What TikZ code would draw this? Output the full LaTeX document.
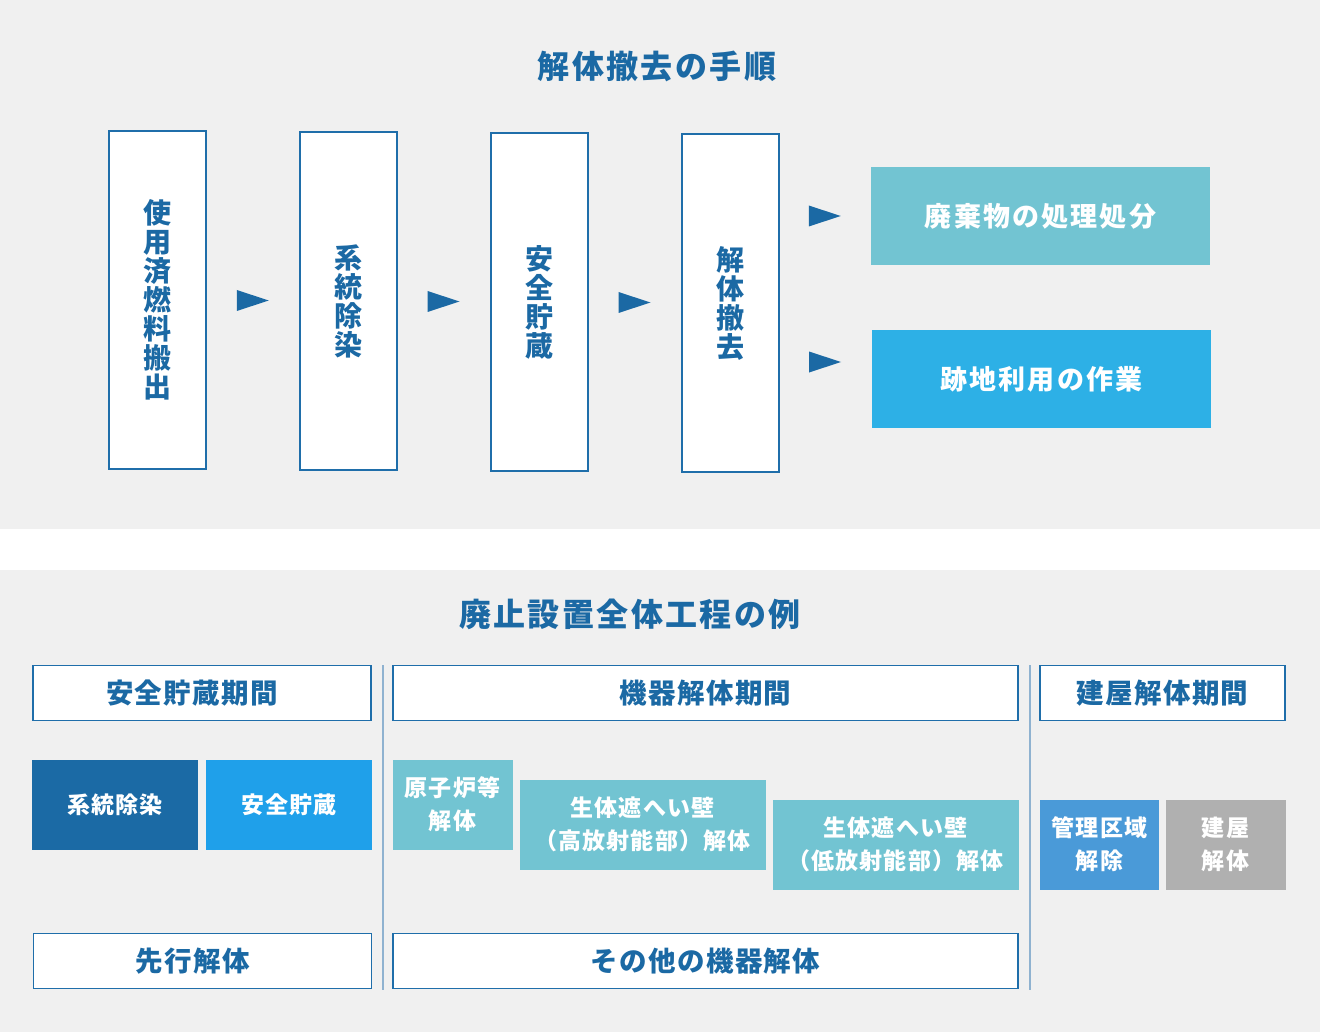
\documentclass[tikz,border=0pt]{standalone}
\usepackage{fontspec}
\setmainfont{Noto Sans CJK JP}
\usepackage{tikz}
\usetikzlibrary{calc,positioning}

\definecolor{bgray}{HTML}{F0F0F0}
\definecolor{navy}{HTML}{1B69A4}
\definecolor{boxline}{HTML}{1F6EAA}
\definecolor{teal}{HTML}{72C4D2}
\definecolor{sky}{HTML}{2DB0E6}
\definecolor{deepblue}{HTML}{1B6AA5}
\definecolor{brightblue}{HTML}{1FA0EA}
\definecolor{midblue}{HTML}{4A9AD8}
\definecolor{stonegray}{HTML}{B0B0B0}
\definecolor{sepline}{HTML}{8FB2D0}

\newcommand{\arrowtri}[1]{\fill[navy] ($(#1)+(-16,-10.5)$) -- ($(#1)+(16,0)$) -- ($(#1)+(-16,10.5)$) -- cycle;}

\begin{document}
\begin{tikzpicture}[x=1pt,y=-1pt,every node/.style={inner sep=0pt,outer sep=0pt},every text node part/.style={align=center},
	titletext/.style={text=navy,font=\bfseries\fontsize{32}{38}\selectfont\addfontfeature{LetterSpace=7.5}},
	stepbox/.style={draw=boxline,line width=2pt,fill=white,minimum width=97,minimum height=338,text=navy,font=\bfseries\fontsize{28}{29}\selectfont},
	endbox/.style={minimum width=339,minimum height=98,text=white,font=\bfseries\fontsize{27}{32}\selectfont\addfontfeature{LetterSpace=8}},
	periodbox/.style={draw=boxline,line width=1.5pt,fill=white,minimum height=55,text=navy,font=\bfseries\fontsize{27.5}{32}\selectfont\addfontfeature{LetterSpace=5}},
	workbox/.style={minimum height=90,text=white,font=\bfseries\fontsize{23}{33}\selectfont\addfontfeature{LetterSpace=5}}]
	\useasboundingbox (0,0) rectangle (1320,1032);
	\fill[bgray] (0,0) rectangle (1320,529);
	\fill[bgray] (0,570) rectangle (1320,1032);

	\node (ttlA) at (657,66) [titletext] {解体撤去の手順};

	\node (use) at (157.5,300) [stepbox] {使\\用\\済\\燃\\料\\搬\\出};
	\node (sys) at (348,301) [stepbox] {系\\統\\除\\染};
	\node (safe) at (539,302) [stepbox] {安\\全\\貯\\蔵};
	\node (dis) at (730,303) [stepbox] {解\\体\\撤\\去};

	\node (waste) at (1040.5,216) [endbox,fill=teal] {廃棄物の処理処分};
	\node (site) at (1041.5,379) [endbox,fill=sky] {跡地利用の作業};

	\coordinate (t1) at ($(use.east)!0.5!(sys.west)$);
	\coordinate (t2) at ($(sys.east)!0.5!(safe.west)$);
	\coordinate (t3) at ($(safe.east)!0.5!(dis.west)$);
	\coordinate (gap) at ($(dis.east)!0.5!(waste.west)$);
	\coordinate (t4) at (gap |- waste.west);
	\coordinate (t5) at (825,362);
	\arrowtri{t1}
	\arrowtri{t2}
	\arrowtri{t3}
	\arrowtri{t4}
	\arrowtri{t5}

	\node (ttlB) at (630,614) [titletext] {廃止設置全体工程の例};

	\node (perA) at (202,693) [periodbox,minimum width=338] {安全貯蔵期間\hspace*{20pt}};
	\node (perB) at (705.5,693) [periodbox,minimum width=625] {機器解体期間};
	\node (perC) at (1162.5,693) [periodbox,minimum width=245] {建屋解体期間};

	\coordinate (sepA) at (383,665);
	\coordinate (sepB) at (1030,665);
	\draw[sepline,line width=2pt] (sepA) -- (sepA |- 0,990);
	\draw[sepline,line width=2pt] (sepB) -- (sepB |- 0,990);

	\node (decon) at (115,804.5) [workbox,minimum width=166,fill=deepblue] {系統除染};
	\node (store) at (289,804.5) [workbox,minimum width=166,fill=brightblue] {安全貯蔵};
	\node (core) at (452.5,804.5) [workbox,minimum width=120,fill=teal] {原子炉等\\解体};
	\node (hiwall) at (642.5,824.5) [workbox,minimum width=246,fill=teal] {生体遮へい壁\\（高放射能部）解体};
	\node (lowall) at (895.5,844.5) [workbox,minimum width=246,fill=teal] {生体遮へい壁\\（低放射能部）解体};
	\node (zone) at (1099.5,844.5) [workbox,minimum width=119,fill=midblue] {管理区域\\解除};
	\node (bldg) at (1225.5,844.5) [workbox,minimum width=120,fill=stonegray] {建屋\\解体};

	\node (preA) at (202.5,961) [periodbox,minimum width=338] {先行解体\hspace*{20pt}};
	\node (preB) at (705.5,961) [periodbox,minimum width=625] {その他の機器解体};
\end{tikzpicture}
\end{document}
